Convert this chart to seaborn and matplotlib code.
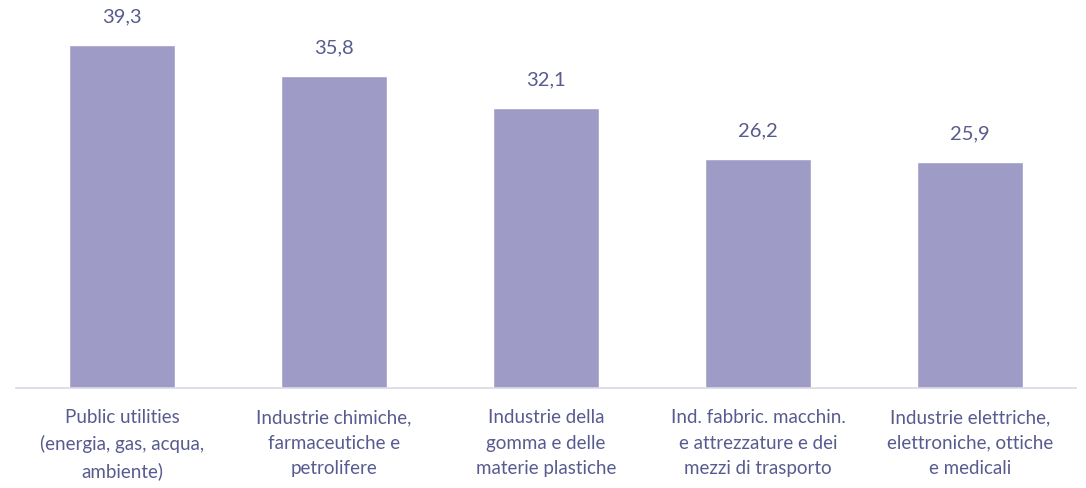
import seaborn as sns
import pandas as pd
import matplotlib.pyplot as plt

categories = [
    "Public utilities\n(energia, gas, acqua,\nambiente)",
    "Industrie chimiche,\nfarmaceutiche e\npetrolifere",
    "Industrie della\ngomma e delle\nmaterie plastiche",
    "Ind. fabbric. macchin.\ne attrezzature e dei\nmezzi di trasporto",
    "Industrie elettriche,\nelettroniche, ottiche\ne medicali",
]
values = [39.3, 35.8, 32.1, 26.2, 25.9]
labels = ["39,3", "35,8", "32,1", "26,2", "25,9"]

df = pd.DataFrame({"settore": categories, "valore": values})

sns.set_style("white")
plt.rcParams["font.family"] = ["Lato", "DejaVu Sans"]

text_col = "#585b8f"
bar_col = "#9e9cc6"

fig = plt.figure(figsize=(10.86, 4.89), dpi=100)
ax = fig.add_axes([16 / 1086, 100 / 489, 1060 / 1086, 389 / 489])

sns.barplot(data=df, x="settore", y="valore", color=bar_col, width=0.5,
            saturation=1, ax=ax)

ax.set_ylim(0, 44.57)
ax.set_xlim(-0.5, 4.5)

for i, (v, t) in enumerate(zip(values, labels)):
    ax.annotate(t, (i, v), xytext=(0, 21), textcoords="offset points",
                ha="center", va="center", fontsize=14.5, color=text_col)

ax.set_xlabel("")
ax.set_ylabel("")
ax.set_yticks([])
ax.tick_params(axis="x", length=0, pad=14.5, labelsize=13.5, labelcolor=text_col)
for lbl in ax.get_xticklabels():
    lbl.set_linespacing(1.6)

for s in ["top", "right", "left"]:
    ax.spines[s].set_visible(False)
ax.spines["bottom"].set_color("#d9d9e6")
ax.spines["bottom"].set_linewidth(1.2)

fig.savefig("out.png", dpi=100)
